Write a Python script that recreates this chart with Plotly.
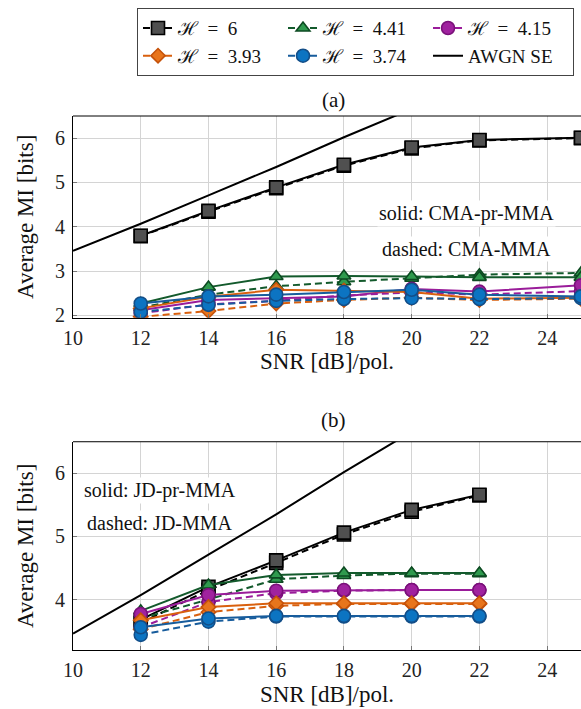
import plotly.graph_objects as go

# ---- data -------------------------------------------------------------
snr_a = [12, 14, 16, 18, 20, 22, 25]
snr_b = [12, 14, 16, 18, 20, 22]
snr_awgn = [10, 12, 14, 16, 18, 20]
awgn_se = [3.46, 4.07, 4.71, 5.35, 6.02, 6.66]

SP = "\u2002"
entropy_labels = [f"ℋ{SP}={SP}6", f"ℋ{SP}={SP}4.41", f"ℋ{SP}={SP}4.15",
                  f"ℋ{SP}={SP}3.93", f"ℋ{SP}={SP}3.74"]

# (a) CMA: solid = CMA-pr-MMA, dashed = CMA-MMA
a_h6_solid = [3.80, 4.36, 4.89, 5.40, 5.79, 5.96, 6.01]
a_h6_dash = [3.79, 4.34, 4.87, 5.38, 5.77, 5.95, 6.00]
a_h441_solid = [2.27, 2.64, 2.88, 2.89, 2.88, 2.86, 2.86]
a_h441_dash = [2.18, 2.47, 2.66, 2.76, 2.84, 2.92, 2.96]
a_h415_solid = [2.12, 2.35, 2.39, 2.43, 2.60, 2.54, 2.68]
a_h415_dash = [2.05, 2.25, 2.33, 2.45, 2.52, 2.47, 2.55]
a_h393_solid = [2.16, 2.42, 2.58, 2.56, 2.53, 2.38, 2.40]
a_h393_dash = [1.97, 2.10, 2.27, 2.35, 2.40, 2.35, 2.38]
a_h374_solid = [2.27, 2.43, 2.47, 2.53, 2.58, 2.47, 2.43]
a_h374_dash = [2.08, 2.24, 2.33, 2.37, 2.39, 2.37, 2.39]

# (b) JD: solid = JD-pr-MMA, dashed = JD-MMA
b_h6_solid = [3.68, 4.20, 4.62, 5.06, 5.42, 5.66]
b_h6_dash = [3.63, 4.15, 4.58, 5.03, 5.39, 5.65]
b_h441_solid = [3.82, 4.23, 4.39, 4.42, 4.42, 4.42]
b_h441_dash = [3.70, 4.00, 4.32, 4.38, 4.41, 4.41]
b_h415_solid = [3.77, 4.07, 4.14, 4.15, 4.15, 4.15]
b_h415_dash = [3.56, 3.96, 4.10, 4.14, 4.15, 4.15]
b_h393_solid = [3.67, 3.88, 3.94, 3.94, 3.94, 3.94]
b_h393_dash = [3.53, 3.80, 3.90, 3.93, 3.93, 3.93]
b_h374_solid = [3.56, 3.70, 3.74, 3.74, 3.74, 3.74]
b_h374_dash = [3.44, 3.65, 3.73, 3.73, 3.73, 3.73]

# ---- styles -----------------------------------------------------------
styles = [
    dict(line="#000000", fill="#505050", edge="#000000", symbol="square", size=13),
    dict(line="#135a2c", fill="#2f9a4e", edge="#0d4a22", symbol="triangle-up", size=12),
    dict(line="#9a1c9a", fill="#a0229f", edge="#7a117a", symbol="circle", size=13),
    dict(line="#d9600e", fill="#e8751c", edge="#c5520a", symbol="diamond", size=11),
    dict(line="#175c9c", fill="#0c74c2", edge="#134e88", symbol="circle", size=13),
]

panel_a = [(a_h6_solid, a_h6_dash), (a_h441_solid, a_h441_dash),
           (a_h415_solid, a_h415_dash), (a_h393_solid, a_h393_dash),
           (a_h374_solid, a_h374_dash)]
panel_b = [(b_h6_solid, b_h6_dash), (b_h441_solid, b_h441_dash),
           (b_h415_solid, b_h415_dash), (b_h393_solid, b_h393_dash),
           (b_h374_solid, b_h374_dash)]

FONT = "Liberation Serif, Times New Roman, DejaVu Serif, serif"

fig = go.Figure()


def add_curve(x, y, st, dashed, xa, ya, name, legend):
    fig.add_trace(go.Scatter(
        x=x, y=y, mode="lines+markers", name=name,
        xaxis=xa, yaxis=ya, showlegend=legend,
        line=dict(color=st["line"], width=2, dash="7px,4px" if dashed else "solid"),
        marker=dict(symbol=st["symbol"], size=st["size"], color=st["fill"],
                    line=dict(color=st["edge"], width=1.6)),
    ))


for xa, ya, snr, panel, legend in (("x", "y", snr_a, panel_a, True),
                                   ("x2", "y2", snr_b, panel_b, False)):
    fig.add_trace(go.Scatter(
        x=snr_awgn, y=awgn_se, mode="lines", name="AWGN SE",
        xaxis=xa, yaxis=ya, showlegend=legend, legendrank=6,
        line=dict(color="#000000", width=2),
    ))
    for i, (solid, dash) in enumerate(panel):
        st = styles[i]
        add_curve(snr, dash, st, True, xa, ya, entropy_labels[i], legend)
        fig.data[-1].legendrank = i + 1
        add_curve(snr, solid, st, False, xa, ya, entropy_labels[i], False)

axis_common = dict(
    showgrid=True, gridcolor="#d4d4d4", gridwidth=1,
    showline=True, linecolor="#000000", linewidth=1,
    ticks="inside", ticklen=4, tickcolor="#777777",
    zeroline=False,
    tickfont=dict(family=FONT, size=20, color="#222222"),
)
title_font = dict(family=FONT, size=23, color="#111111")

xticks = [10, 12, 14, 16, 18, 20, 22, 24]

fig.update_layout(
    width=581, height=709,
    margin=dict(l=73, r=0, t=116, b=59),
    plot_bgcolor="white", paper_bgcolor="white",
    font=dict(family=FONT, size=18, color="#111111"),
    xaxis=dict(axis_common, domain=[0, 1], range=[10, 25], tickvals=xticks,
               anchor="y", ticklabelstandoff=2,
               title=dict(text="SNR [dB]/pol.", font=title_font, standoff=5)),
    yaxis=dict(axis_common, domain=[0.6223, 1.0], range=[1.95, 6.5],
               tickvals=[2, 3, 4, 5, 6], anchor="x", ticklabelstandoff=3,
               title=dict(text="Average MI [bits]", font=title_font, standoff=14)),
    xaxis2=dict(axis_common, domain=[0, 1], range=[10, 25], tickvals=xticks,
                anchor="y2", ticklabelstandoff=2,
                title=dict(text="SNR [dB]/pol.", font=title_font, standoff=5)),
    yaxis2=dict(axis_common, domain=[0.0, 0.390], range=[3.2, 6.5],
                tickvals=[4, 5, 6], anchor="x2", ticklabelstandoff=3,
                title=dict(text="Average MI [bits]", font=title_font, standoff=14)),
    legend=dict(
        orientation="h", x=0.126, xanchor="left", y=1.202, yanchor="top",
        bgcolor="white", bordercolor="#444444", borderwidth=1,
        entrywidth=100, entrywidthmode="pixels",
        font=dict(family=FONT, size=19, color="#111111"),
        tracegroupgap=0, itemwidth=30,
    ),
    shapes=[
        dict(type="line", xref="x domain", yref="y domain", x0=0, x1=1, y0=1, y1=1,
             line=dict(color="#000000", width=1)),
        dict(type="line", xref="x2 domain", yref="y2 domain", x0=0, x1=1, y0=1, y1=1,
             line=dict(color="#000000", width=1)),
    ],
    annotations=[
        dict(text="(a)", xref="paper", yref="paper", x=0.512, y=1.03,
             yanchor="middle", showarrow=False, font=dict(family=FONT, size=21)),
        dict(text="(b)", xref="paper", yref="paper", x=0.512, y=0.4307,
             yanchor="middle", showarrow=False, font=dict(family=FONT, size=21)),
        dict(text="solid: CMA-pr-MMA", xref="x", yref="y", x=21.63, y=4.31,
             showarrow=False, bgcolor="white", font=dict(family=FONT, size=20)),
        dict(text="dashed: CMA-MMA", xref="x", yref="y", x=21.63, y=3.50,
             showarrow=False, bgcolor="white", font=dict(family=FONT, size=20)),
        dict(text="solid: JD-pr-MMA", xref="x2", yref="y2", x=12.57, y=5.73,
             showarrow=False, bgcolor="white", font=dict(family=FONT, size=20)),
        dict(text="dashed: JD-MMA", xref="x2", yref="y2", x=12.57, y=5.21,
             showarrow=False, bgcolor="white", font=dict(family=FONT, size=20)),
    ],
)

fig.write_html("out.html")
